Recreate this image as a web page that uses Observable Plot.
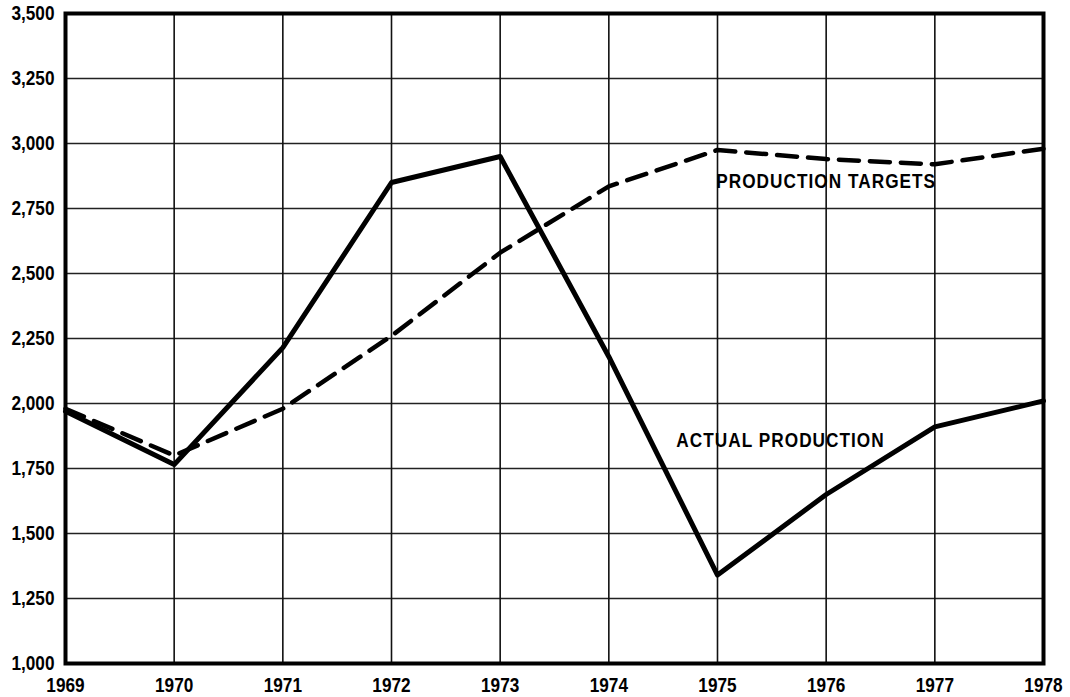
<!DOCTYPE html>
<html>
<head>
<meta charset="utf-8">
<script src="https://cdn.jsdelivr.net/npm/d3@7"></script>
<script src="https://cdn.jsdelivr.net/npm/@observablehq/plot@0.6"></script>
<style>
  html, body { margin: 0; padding: 0; background: #fff; }
  svg { display: block; }
  svg text { font-family: 'Liberation Sans', Arial, sans-serif; font-weight: bold; font-size: 20px; }
</style>
</head>
<body>
<div id="chart"></div>
<script>
const years = [1969, 1970, 1971, 1972, 1973, 1974, 1975, 1976, 1977, 1978];
const actualProduction = [1970, 1765, 2215, 2850, 2950, 2180, 1340, 1650, 1910, 2010];
const productionTargets = [1980, 1800, 1980, 2260, 2580, 2835, 2975, 2940, 2920, 2980];
const yTicks = [1000, 1250, 1500, 1750, 2000, 2250, 2500, 2750, 3000, 3250, 3500];
const seriesLabels = [
  {text: "PRODUCTION TARGETS", year: 1976.0, value: 2852},
  {text: "ACTUAL PRODUCTION", year: 1975.58, value: 1856}
];

const actual = years.map((y, i) => ({year: y, value: actualProduction[i]}));
const targets = years.map((y, i) => ({year: y, value: productionTargets[i]}));

const chart = Plot.plot({
  width: 1070,
  height: 697,
  marginLeft: 65,
  marginRight: 27,
  marginTop: 13,
  marginBottom: 34,
  style: {background: "#fff", color: "#000"},
  x: {domain: [1969, 1978], ticks: years, tickFormat: d => String(d), label: null},
  y: {domain: [1000, 3500], ticks: yTicks, tickFormat: d3.format(","), label: null},
  marks: [
    Plot.ruleY(yTicks, {stroke: "#222", strokeWidth: 1.4}),
    Plot.ruleX(years, {stroke: "#111", strokeWidth: 1.6}),
    Plot.frame({stroke: "#000", strokeWidth: 4}),
    Plot.axisY({ticks: yTicks, tickSize: 0, tickPadding: 11, tickFormat: d3.format(","), fill: "#000"}),
    Plot.axisX({ticks: years, tickSize: 0, tickPadding: 14, tickFormat: d => String(d), fill: "#000"}),
    Plot.line(targets, {x: "year", y: "value", stroke: "#000", strokeWidth: 4.5, strokeDasharray: "20,11", strokeLinejoin: "round"}),
    Plot.line(actual, {x: "year", y: "value", stroke: "#000", strokeWidth: 5, strokeLinejoin: "round"}),
    Plot.text(seriesLabels, {x: "year", y: "value", text: "text", fill: "#000", textAnchor: "middle", className: "series-label"})
  ]
});
document.getElementById("chart").appendChild(chart);

// Condense text horizontally (the original uses a condensed bold face)
const sx = 0.86;
d3.select(chart).selectAll(".series-label text, text.series-label").style("letter-spacing", "1.2px");
d3.select(chart).selectAll("text").each(function() {
  const len = this.getComputedTextLength();
  if (len > 0) {
    this.setAttribute("textLength", (len * sx).toFixed(2));
    this.setAttribute("lengthAdjust", "spacingAndGlyphs");
  }
});
</script>
</body>
</html>
